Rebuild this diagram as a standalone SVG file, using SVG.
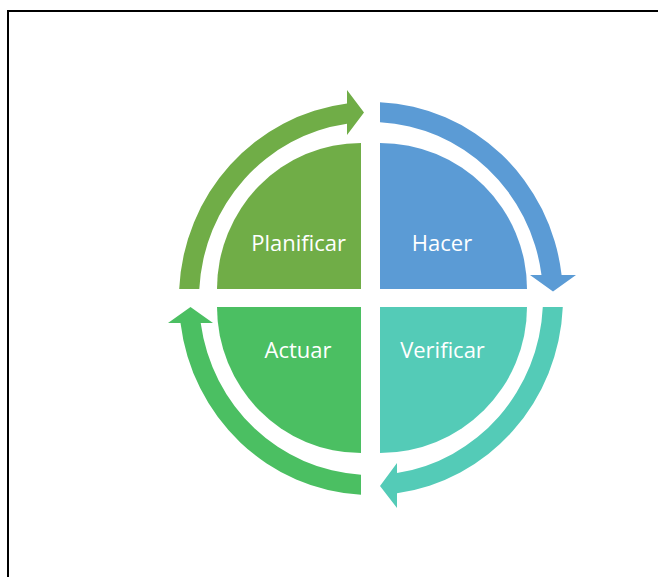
<svg xmlns="http://www.w3.org/2000/svg" width="658" height="577" viewBox="0 0 658 577">
  <style>
    .label { font-family: "Open Sans", "Liberation Sans", sans-serif; font-size: 22px; fill: #ffffff; text-anchor: middle; }
    .plan { fill: #70AD47; }
    .hacer { fill: #5B9BD5; }
    .verif { fill: #54CBB7; }
    .actuar { fill: #4BBF62; }
  </style>
  <rect x="0" y="0" width="658" height="577" fill="#ffffff"/>
  <!-- page frame: only the top and left edges fall inside the canvas -->
  <rect x="8" y="11" width="700" height="620" fill="none" stroke="#000000" stroke-width="2"/>

  <!-- curved arrows around the cycle -->
  <g id="connectors">
    <path class="plan" d="M 179.2,289 A 192 196.5 0 0 1 347,103.5 L 347,90 L 364,112.5 L 347,135 L 347,123.7 A 172 176.5 0 0 0 199.3,289 Z"/>
    <path class="hacer" d="M 380,102.2 A 192 196.5 0 0 1 561.6,275 L 576,275 L 553,291.5 L 530,275 L 541.5,275 A 172 176.5 0 0 0 380,122.2 Z"/>
    <path class="verif" d="M 562.8,307 A 192 196.5 0 0 1 397,493.2 L 397,508 L 380,486 L 397,463 L 397,473 A 172 176.5 0 0 0 542.8,307 Z"/>
    <path class="actuar" d="M 361,494.7 A 192 196.5 0 0 1 180.5,323 L 168,323 L 190.5,307 L 213,323 L 200.7,323 A 172 176.5 0 0 0 361,474.7 Z"/>
  </g>

  <g id="planificar">
    <path class="plan" d="M 361,289 L 217,289 A 144 146 0 0 1 361,143 Z"/>
    <text class="label" x="298.7" y="250.7">Planificar</text>
  </g>
  <g id="hacer">
    <path class="hacer" d="M 380,289 L 380,143 A 147 146 0 0 1 527,289 Z"/>
    <text class="label" x="442" y="250.7">Hacer</text>
  </g>
  <g id="verificar">
    <path class="verif" d="M 380,307 L 527,307 A 147 146 0 0 1 380,453 Z"/>
    <text class="label" x="442.5" y="358.3">Verificar</text>
  </g>
  <g id="actuar">
    <path class="actuar" d="M 361,307 L 361,453 A 144 146 0 0 1 217,307 Z"/>
    <text class="label" x="298" y="358.3">Actuar</text>
  </g>
</svg>
